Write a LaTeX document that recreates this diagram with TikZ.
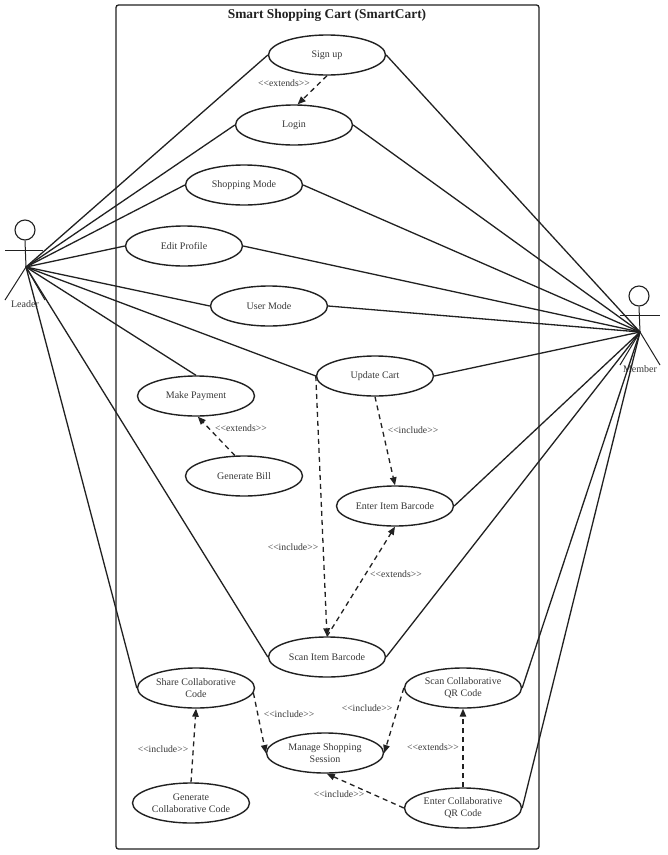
\documentclass[tikz,border=0pt]{standalone}
\usepackage{fontspec}
\setmainfont{Liberation Serif}
\usetikzlibrary{shapes.geometric,arrows.meta}
\definecolor{ink}{gray}{0.13}
\definecolor{txt}{gray}{0.22}
\tikzset{
  usecase/.style={ellipse,draw=ink,line width=1.4pt,fill=white,minimum width=117pt,minimum height=40pt,inner sep=0pt,align=center,font=\fontsize{10}{12}\selectfont,text=txt},
  assoc/.style={draw=ink,line width=1.3pt},
  dep/.style={draw=ink,line width=1.3pt,dash pattern=on 5pt off 4pt,-{Triangle[length=8pt,width=6.5pt]}},
  tag/.style={font=\fontsize{9.7}{11}\selectfont,text=txt,inner sep=0pt},
  actorlabel/.style={font=\fontsize{10}{11}\selectfont,text=txt,inner sep=0pt},
  stick/.style={draw=ink,line width=1pt},
  head/.style={circle,draw=ink,line width=1.1pt,minimum size=20pt,inner sep=0pt},
}
\begin{document}
\begin{tikzpicture}[x=1pt,y=-1pt]
\useasboundingbox (0,0) rectangle (668,855);
\fill[white] (0,0) rectangle (668,855);
% system boundary
\draw[draw=ink,line width=1.3pt,rounded corners=2.5pt] (116,5) rectangle (539,849);
\node[font=\bfseries\fontsize{13.4}{15}\selectfont,text=ink,inner sep=0pt] (title) at (327,15) {Smart Shopping Cart (SmartCart)};
% actors
\coordinate (L) at (26,267);
\coordinate (M) at (640,332);
% use cases
\node[usecase] (su) at (327,55) {Sign up};
\node[usecase] (lg) at (294,125) {Login};
\node[usecase] (sm) at (244,185) {Shopping Mode};
\node[usecase] (ep) at (184,246) {Edit Profile};
\node[usecase] (um) at (269,306) {User Mode};
\node[usecase] (uc) at (375,376) {Update Cart};
\node[usecase] (mp) at (196,396) {Make Payment};
\node[usecase] (gb) at (244,476) {Generate Bill};
\node[usecase] (ei) at (395,506) {Enter Item Barcode};
\node[usecase] (si) at (327,657) {Scan Item Barcode};
\node[usecase] (sh) at (196,688) {Share Collaborative\\[0pt]Code};
\node[usecase] (sq) at (463,688) {Scan Collaborative\\[0pt]QR Code};
\node[usecase] (ms) at (325,753) {Manage Shopping\\[0pt]Session};
\node[usecase] (gc) at (191,803) {Generate\\[0pt]Collaborative Code};
\node[usecase] (eq) at (463,808) {Enter Collaborative\\[0pt]QR Code};
% leader figure
\node[head] (lh) at (25,230) {};
\coordinate (larmL) at (5,250.4);
\coordinate (larmR) at (43,250.4);
\coordinate (llegL) at (5,300);
\coordinate (llegR) at (45,300);
\draw[stick] (lh.south) -- (L);
\draw[stick] (larmL) -- (larmR);
\draw[stick] (llegL) -- (L) -- (llegR);
\node[actorlabel] (lt) at (25,304) {Leader};
% member figure
\node[head] (mh) at (639,296) {};
\coordinate (marmL) at (620,315.4);
\coordinate (marmR) at (660,315.4);
\coordinate (mlegL) at (620,365);
\coordinate (mlegR) at (660,365);
\draw[stick] (mh.south) -- (M);
\draw[stick] (marmL) -- (marmR);
\draw[stick] (mlegL) -- (M) -- (mlegR);
\node[actorlabel] (mt) at (640,369) {Member};
% leader associations
\foreach \t/\a in {su/west,lg/west,sm/west,ep/west,um/west,uc/west,mp/north,si/west,sh/west}
  \draw[assoc] (L) -- (\t.\a);
% member associations
\foreach \t in {su,lg,sm,ep,um,uc,ei,si,sq,eq}
  \draw[assoc] (M) -- (\t.east);
% dependencies
\draw[dep] (su.south) -- (lg.80);
\draw[dep] (gb.114) -- (mp.-85);
\draw[dep] (uc.west) -- (si.north);
\draw[dep] (uc.south) -- (ei.north);
\draw[dep] (si.north) -- (ei.south);
\draw[dep] (sh.-5) -- (ms.west);
\draw[dep] (sq.west) -- (ms.east);
\draw[dep] (eq.north) -- (sq.south);
\draw[dep] (eq.west) -- (ms.-85);
\draw[dep] (gc.north) -- (sh.south);
% labels
\node[tag] (t1) at (284,83) {<{}<extends>{}>};
\node[tag] (t2) at (241,428) {<{}<extends>{}>};
\node[tag] (t3) at (413,430) {<{}<include>{}>};
\node[tag] (t4) at (293,547) {<{}<include>{}>};
\node[tag] (t5) at (396,574) {<{}<extends>{}>};
\node[tag] (t6) at (289,714) {<{}<include>{}>};
\node[tag] (t7) at (367,708) {<{}<include>{}>};
\node[tag] (t8) at (163,749) {<{}<include>{}>};
\node[tag] (t9) at (433,747) {<{}<extends>{}>};
\node[tag] (t10) at (339,794) {<{}<include>{}>};
\end{tikzpicture}
\end{document}
